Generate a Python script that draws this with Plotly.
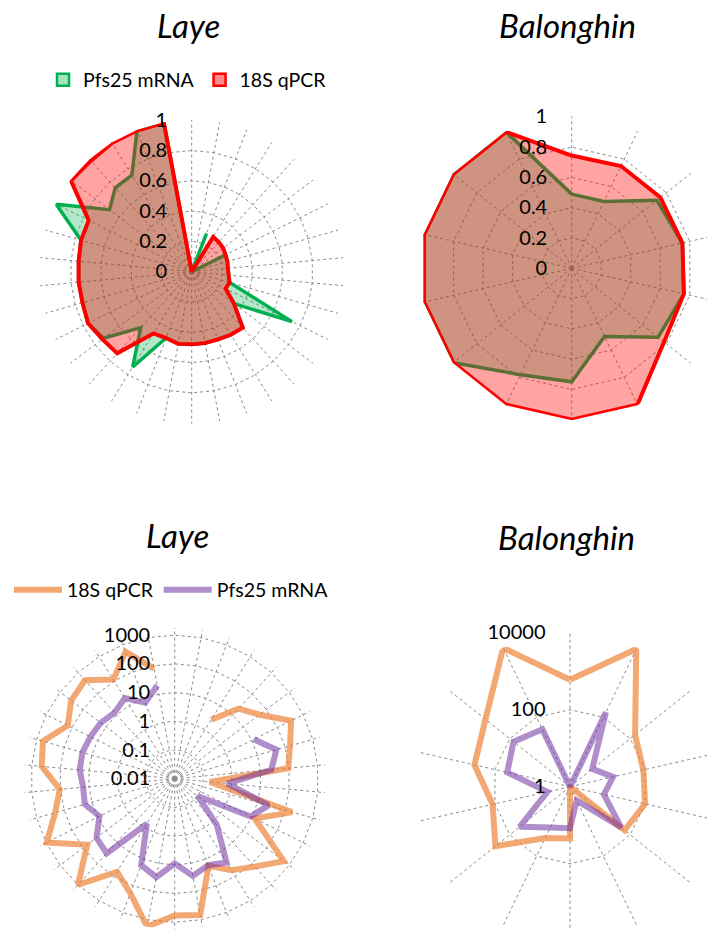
import plotly.graph_objects as go

# ---------------- data ----------------
laye_ids = [f"L{i+1}" for i in range(34)]
bal_ids = [f"B{i+1}" for i in range(14)]

# top row: normalised values (0-1)
laye_pfs25_norm = [0, 0, 0.27, 0, 0, 0, 0.25, 0.245, 0.24, 0.245,
                   0.26, 0.74, 0.35, 0.50, 0.49, 0.48, 0.48, 0.48, 0.485, 0.47,
                   0.74, 0.50, 0.73, 0.765, 0.75, 0.75, 0.75, 0.76, 1.0, 0.68,
                   0.75, 0.75, 1.0, 1.0]
laye_18s_norm = [0, 0, 0, 0.27, 0.265, 0.26, 0.25, 0.245, 0.24, 0.245,
                 0.26, 0.25, 0.35, 0.50, 0.49, 0.48, 0.48, 0.48, 0.485, 0.47,
                 0.48, 0.73, 0.74, 0.765, 0.75, 0.75, 0.75, 0.76, 0.76, 1.0,
                 0.99, 1.0, 1.0, 1.0]
bal_pfs25_norm = [0.49, 0.49, 0.72, 0.75, 0.76, 0.73, 0.50, 0.75, 0.78, 1, 1, 1, 1, 1]
bal_18s_norm = [0.745, 0.75, 0.75, 0.75, 0.76, 0.78, 1, 1, 1, 1, 1, 1, 1, 1]

# bottom row: raw values (log scale)
laye_18s = [None, None, None, 2.6, 20, 50, 340, 150, 94, 0.17,
            180, 13, 580, 140, 56, 18, 680, 580, 1750, 190,
            66, 1000, 66, 950, 215, 105, 450, 590, 145, 330,
            440, 115, 550, 80]
laye_pfs25 = [None, None, None, None, None, None, 12, 48, 24, 0.7,
              25, 9, 0.1, 1.5, 27, 17, 28, 9, 31, 17,
              0.7, 33, 26, 8.5, 18, 16, 21, 22, 19, 17,
              13, 20, 7, 20]
bal_18s = [600, 9300, 145, 90, 100, 65, 1, 22, 30, 300, 115, 350, 640, 10000]
bal_pfs25 = [1, 140, 5.5, 14, 8, 50, 2.5, 12, 15, 47, 4, 47, 75, 45]

# axis tick labels
lin_ticks = [0, 0.2, 0.4, 0.6, 0.8, 1]
lin_tick_text = ["0", "0.2", "0.4", "0.6", "0.8", "1"]
laye_log_ticks = [0.01, 0.1, 1, 10, 100, 1000]
laye_log_text = ["0.01", "0.1", "1", "10", "100", "1000"]
bal_log_ticks = [1, 100, 10000]
bal_log_text = ["1", "100", "10000"]

titles = ["Laye", "Balonghin", "Laye", "Balonghin"]

# ---------------- layout helpers ----------------
W, H = 730, 950
FONT = "Lato"


def dom(cx, cy, R):
    return dict(x=[(cx - R) / W, (cx + R) / W], y=[1 - (cy + R) / H, 1 - (cy - R) / H])


GRID = dict(gridcolor="#8c8c8c", griddash="dot", gridwidth=1)


def polar(domain, rtype, rrange, tickvals, ticktext):
    return dict(
        domain=domain, gridshape="linear", bgcolor="white",
        radialaxis=dict(type=rtype, range=rrange, tickvals=tickvals, ticktext=ticktext,
                        showticklabels=True, tickangle=90, side="counterclockwise",
                        ticks="outside", ticklen=17, tickcolor="rgba(0,0,0,0)",
                        tickfont=dict(family=FONT, size=20, color="black"),
                        showline=False, angle=90, **GRID),
        angularaxis=dict(type="category", direction="clockwise", rotation=90,
                         showticklabels=False, ticks="", showline=False, **GRID),
    )


def closed(v):
    return list(v) + [v[0]]


fig = go.Figure()

GREEN_LINE, GREEN_FILL = "#00B050", "rgba(0,176,80,0.30)"
RED_LINE, RED_FILL = "#FF0000", "rgba(255,0,0,0.36)"
ORANGE = "rgba(237,125,49,0.68)"
PURPLE = "rgba(112,48,160,0.55)"

# --- top row filled radars ---
for sub, ids, g, r in [("polar", laye_ids, laye_pfs25_norm, laye_18s_norm),
                        ("polar2", bal_ids, bal_pfs25_norm, bal_18s_norm)]:
    fig.add_trace(go.Scatterpolar(r=closed(g), theta=closed(ids), mode="lines", fill="toself",
                                  fillcolor=GREEN_FILL, line=dict(color=GREEN_LINE, width=3.5),
                                  subplot=sub, showlegend=False, hoverinfo="skip"))
    fig.add_trace(go.Scatterpolar(r=closed(r), theta=closed(ids), mode="lines", fill="toself",
                                  fillcolor=RED_FILL, line=dict(color=RED_LINE, width=4),
                                  subplot=sub, showlegend=False, hoverinfo="skip"))

# legend entries for top row
fig.add_trace(go.Scatterpolar(r=[None], theta=[laye_ids[0]], mode="markers", name="Pfs25 mRNA",
                              marker=dict(symbol="square", size=12, color="rgba(0,176,80,0.35)",
                                          line=dict(color=GREEN_LINE, width=2.5)),
                              subplot="polar", legend="legend"))
fig.add_trace(go.Scatterpolar(r=[None], theta=[laye_ids[0]], mode="markers", name="18S qPCR",
                              marker=dict(symbol="square", size=12, color="rgba(255,0,0,0.45)",
                                          line=dict(color=RED_LINE, width=2.5)),
                              subplot="polar", legend="legend"))

# --- bottom row line radars ---
fig.add_trace(go.Scatterpolar(r=laye_18s, theta=laye_ids, mode="lines", name="18S qPCR",
                              line=dict(color=ORANGE, width=6), subplot="polar3",
                              legend="legend2", hoverinfo="skip"))
fig.add_trace(go.Scatterpolar(r=laye_pfs25, theta=laye_ids, mode="lines", name="Pfs25 mRNA",
                              line=dict(color=PURPLE, width=6), subplot="polar3",
                              legend="legend2", hoverinfo="skip"))
fig.add_trace(go.Scatterpolar(r=closed(bal_18s), theta=closed(bal_ids), mode="lines",
                              line=dict(color=ORANGE, width=6), subplot="polar4",
                              showlegend=False, hoverinfo="skip"))
fig.add_trace(go.Scatterpolar(r=closed(bal_pfs25), theta=closed(bal_ids), mode="lines",
                              line=dict(color=PURPLE, width=6), subplot="polar4",
                              showlegend=False, hoverinfo="skip"))

# --- titles ---
title_pos = [(188, 25), (567, 25), (177, 535), (566, 537)]
annotations = []
for t, (x, y) in zip(titles, title_pos):
    annotations.append(dict(text=f"<i>{t}</i>", x=x / W, y=1 - y / H, xref="paper", yref="paper",
                            showarrow=False, xanchor="center", yanchor="middle",
                            font=dict(family=FONT, size=33, color="black")))

fig.update_layout(
    width=W, height=H, margin=dict(l=0, r=0, t=0, b=0),
    paper_bgcolor="white", plot_bgcolor="white",
    font=dict(family=FONT, color="black"),
    polar=polar(dom(191.7, 271.7, 152), "linear", [0, 1.004], lin_ticks, lin_tick_text),
    polar2=polar(dom(571.7, 268.3, 152), "linear", [0, 1.004], lin_ticks, lin_tick_text),
    polar3=polar(dom(174.7, 778.7, 150.7), "log", [-2, 3.25], laye_log_ticks, laye_log_text),
    polar4=polar(dom(570, 786.7, 154.5), "log", [0, 4.012], bal_log_ticks, bal_log_text),
    legend=dict(orientation="h", x=43 / W, y=1 - 80 / H, xanchor="left", yanchor="middle",
                font=dict(family=FONT, size=19.5), itemwidth=30,
                bgcolor="rgba(0,0,0,0)"),
    legend2=dict(orientation="h", x=9 / W, y=1 - 590 / H, xanchor="left", yanchor="middle",
                 font=dict(family=FONT, size=19.5), itemwidth=48,
                 bgcolor="rgba(0,0,0,0)"),
    annotations=annotations,
)

fig.write_html("out.html", config={"displayModeBar": False}, post_script=(
    "document.body.style.margin='0';document.body.style.overflow='hidden';"
    "document.documentElement.style.overflow='hidden';"))
